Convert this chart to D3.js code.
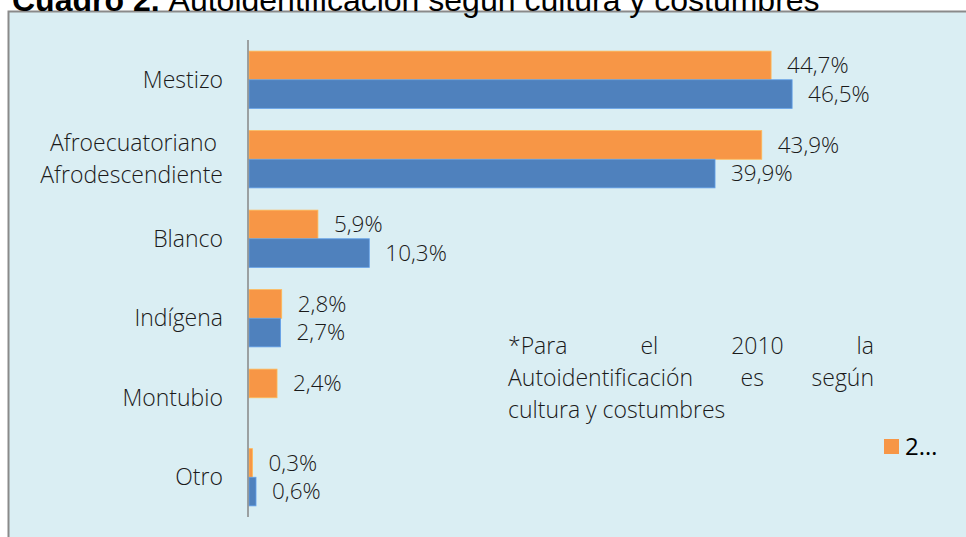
<!DOCTYPE html>
<html>
<head>
<meta charset="utf-8">
<script src="https://cdn.jsdelivr.net/npm/d3@7"></script>
<style>
  html, body { margin: 0; padding: 0; background: #ffffff; overflow: hidden; }
  svg { display: block; }
  .lbl { font-family: "Open Sans", "Noto Sans", sans-serif; font-weight: 300; fill: #1a1a1a; }
</style>
</head>
<body>
<div id="container"></div>
<script>
/**
 * DATA
 * */
const categories = ["Mestizo", "Afroecuatoriano \nAfrodescendiente", "Blanco", "Indígena", "Montubio", "Otro"];
const seriesNames = ["2010", "2001"];
const values2010 = [44.7, 43.9, 5.9, 2.8, 2.4, 0.3];
const values2001 = [46.5, 39.9, 10.3, 2.7, null, 0.6];
const colors = ["#F79646", "#4F81BD"];
const noteLines = [["*Para", "el", "2010", "la"], ["Autoidentificación", "es", "según"], ["cultura y costumbres"]];
const legendLabel = "2…";

/**
 * CONSTANTS AND GLOBALS
 * */
const width = 966, height = 537;
const locale = d3.formatLocale({ decimal: ",", thousands: ".", grouping: [3], currency: ["", ""] });
const fmt = d => locale.format(".1f")(d) + "%";

const svg = d3.select("#container")
  .append("svg")
  .attr("width", width)
  .attr("height", height);

// chart box
svg.append("rect")
  .attr("x", 8.5)
  .attr("y", 11.5)
  .attr("width", width + 20)
  .attr("height", height + 20)
  .attr("fill", "#DAEEF3")
  .attr("stroke", "#8a8a8a")
  .attr("stroke-width", 2);

// title (mostly cut off at the top, drawn over the box edge)
const title = svg.append("text")
  .attr("x", 12)
  .attr("y", 11)
  .attr("font-family", "Liberation Sans, Arial, sans-serif")
  .attr("font-size", 32)
  .attr("fill", "#000");
title.append("tspan").attr("font-weight", "bold").text("Cuadro 2.");
title.append("tspan").attr("dx", 9).text("Autoidentificación según cultura y costumbres");

/**
 * SCALES
 * */
const x = d3.scaleLinear().domain([0, 50]).range([249, 833]);
const y = d3.scaleBand().domain(categories).range([40, 517]).paddingInner(0.28).paddingOuter(0.14);
const ySub = d3.scaleBand().domain(seriesNames).range([0, y.bandwidth()]);

const rows = categories.map((c, i) => ({
  cat: c,
  vals: [
    { s: seriesNames[0], v: values2010[i], color: colors[0] },
    { s: seriesNames[1], v: values2001[i], color: colors[1] }
  ].filter(d => d.v != null)
}));

const groups = svg.selectAll("g.grp")
  .data(rows)
  .join("g")
  .attr("class", "grp")
  .attr("transform", d => `translate(0,${y(d.cat)})`);

groups.selectAll("rect")
  .data(d => d.vals)
  .join("rect")
  .attr("x", x(0))
  .attr("y", d => ySub(d.s))
  .attr("width", d => x(d.v) - x(0))
  .attr("height", ySub.bandwidth())
  .attr("fill", d => d.color)
  .attr("stroke", d => d3.color(d.color).brighter(0.6))
  .attr("stroke-width", 0.8);

groups.selectAll("text.val")
  .data(d => d.vals)
  .join("text")
  .attr("class", "val lbl")
  .attr("x", d => x(d.v) + 16)
  .attr("y", d => ySub(d.s) + ySub.bandwidth() / 2)
  .attr("dy", "0.35em")
  .attr("font-size", 22.5)
  .text(d => fmt(d.v));

// axis line
svg.append("line")
  .attr("x1", 248).attr("x2", 248)
  .attr("y1", 40).attr("y2", 517)
  .attr("stroke", "#868686")
  .attr("stroke-width", 1.5);

// category labels
svg.selectAll("text.cat")
  .data(categories)
  .join("text")
  .attr("class", "cat lbl")
  .attr("font-size", 23)
  .attr("text-anchor", "end")
  .style("white-space", "pre")
  .each(function (d) {
    const lines = d.split("\n");
    const cy = y(d) + y.bandwidth() / 2;
    const lh = 32;
    d3.select(this).selectAll("tspan")
      .data(lines)
      .join("tspan")
      .attr("x", 223)
      .attr("y", (l, i) => cy + (i - (lines.length - 1) / 2) * lh)
      .attr("dy", "0.35em")
      .text(l => l);
  });

// note (justified text)
const noteX0 = 508, noteX1 = 874, noteY0 = 346, noteLh = 32;
noteLines.forEach((words, li) => {
  const yy = noteY0 + li * noteLh;
  const last = li === noteLines.length - 1;
  const ts = svg.selectAll(null)
    .data(words)
    .join("text")
    .attr("class", "lbl")
    .attr("font-size", 23)
    .attr("y", yy)
    .attr("dy", "0.35em")
    .text(w => w);
  const widths = ts.nodes().map(n => n.getComputedTextLength());
  const total = d3.sum(widths);
  const gap = (last || words.length === 1) ? 6 : (noteX1 - noteX0 - total) / (words.length - 1);
  let cx = noteX0;
  ts.attr("x", (w, i) => { const p = cx; cx += widths[i] + gap; return p; });
});

// legend
const leg = svg.append("g").attr("transform", "translate(884,439)");
leg.append("rect").attr("width", 15).attr("height", 15).attr("fill", colors[0]);
leg.append("text")
  .attr("x", 21).attr("y", 7.5).attr("dy", "0.35em")
  .attr("font-family", "Open Sans, sans-serif")
  .attr("font-size", 24)
  .attr("fill", "#000")
  .text(legendLabel);
</script>
</body>
</html>
